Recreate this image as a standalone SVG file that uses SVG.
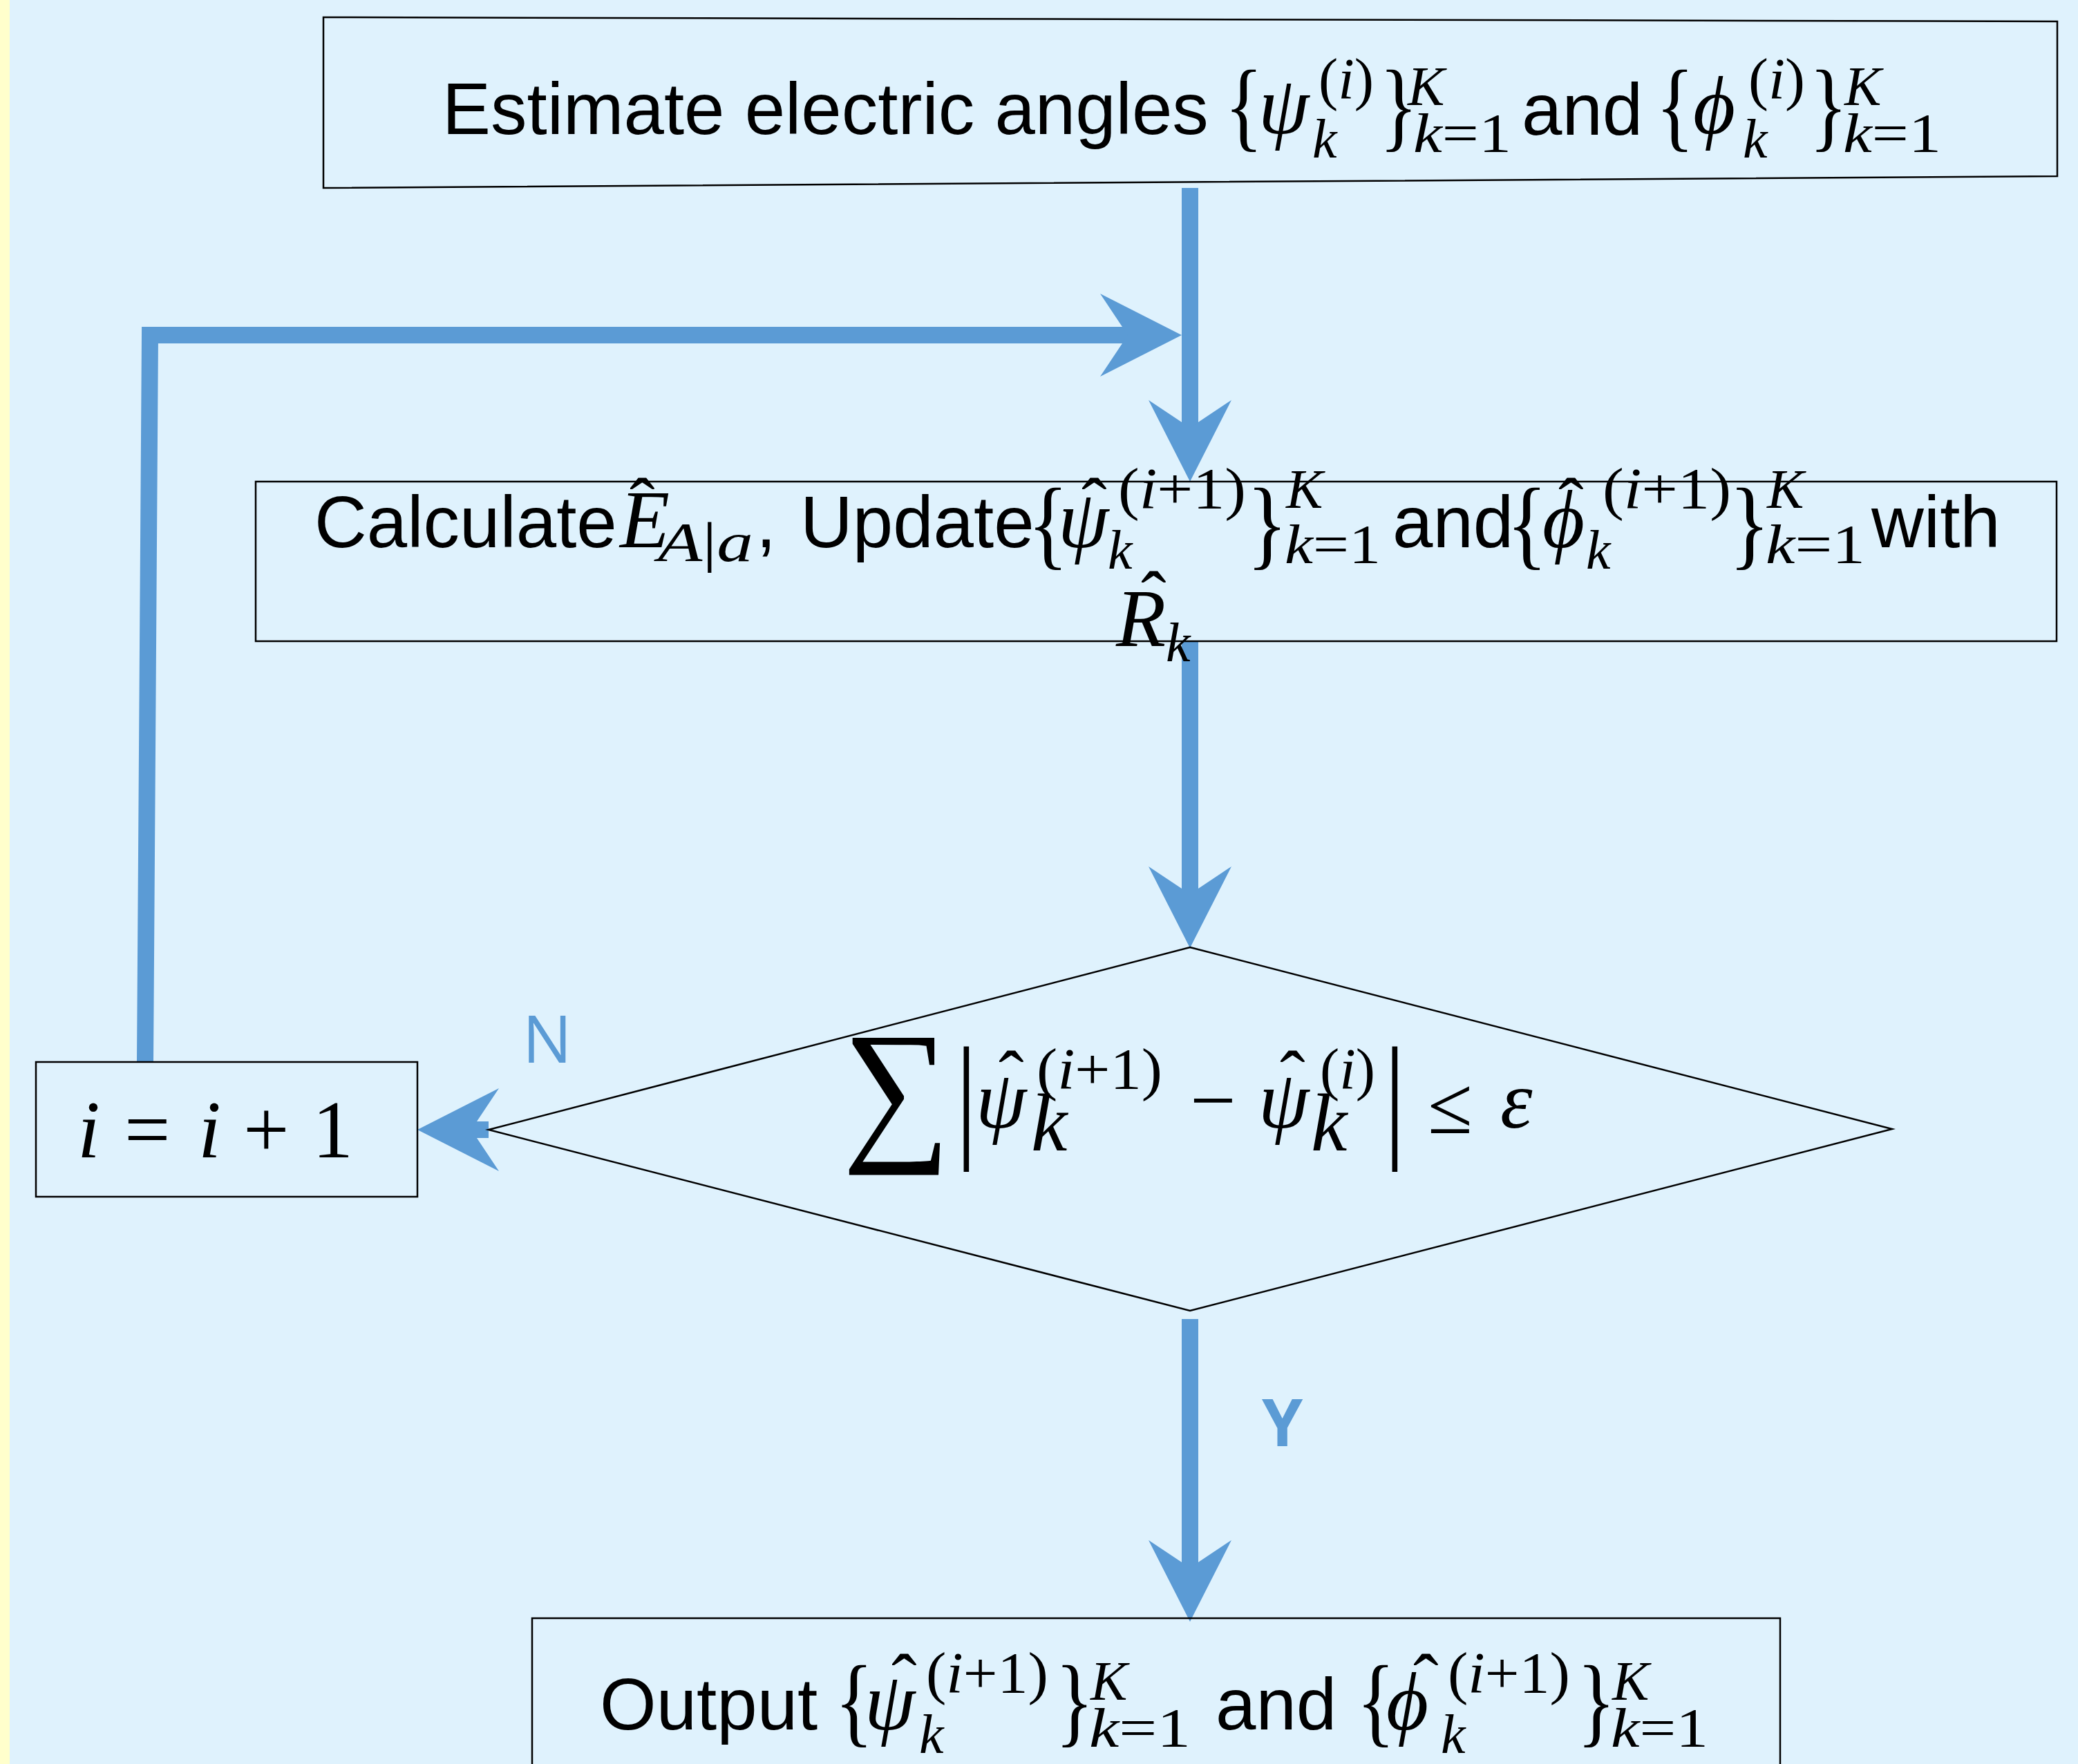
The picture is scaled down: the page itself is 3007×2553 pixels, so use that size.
<svg xmlns="http://www.w3.org/2000/svg" width="3007" height="2553" viewBox="0 0 3007 2553">
<style>
.bg{fill:#DFF2FD}
.strip{fill:#FFFFCC}
.box{fill:none;stroke:#000;stroke-width:2.5}
.conn{fill:none;stroke:#5B9BD5;stroke-width:24;stroke-linejoin:miter}
.t{font-family:"Liberation Sans",Arial,sans-serif;font-size:105px;fill:#000}
.m{font-family:"Liberation Serif","DejaVu Serif",serif;font-style:italic;font-size:118px;fill:#000}
.s{font-size:80px}
.p{font-size:85px}
.br{font-family:"Liberation Serif","DejaVu Serif",serif;font-style:normal;font-size:145px;fill:#000}
.u{font-style:normal}
.hat{font-family:"Liberation Serif","DejaVu Serif",serif;font-style:normal;font-size:110px;fill:#000}
.lbl{font-family:"Open Sans","Liberation Sans",sans-serif;font-size:95px;fill:#5B9BD5}
</style>
<defs>
<marker id="ah" markerUnits="userSpaceOnUse" viewBox="0 -60 118 120" refX="40" refY="0" markerWidth="118" markerHeight="120" orient="auto" overflow="visible">
<path d="M0,-60 L118,0 L0,60 L40,0 Z" fill="#5B9BD5"/>
</marker>
</defs>
<rect class="bg" x="0" y="0" width="3007" height="2553"/>
<rect class="strip" x="0" y="0" width="14" height="2553"/>

<g id="connectors">
<path class="conn" d="M1722,272 L1722,619" marker-end="url(#ah)"/>
<path class="conn" d="M210,1537 L217,485 L1632,485" marker-end="url(#ah)"/>
<path class="conn" d="M1722,928 L1722,1294" marker-end="url(#ah)"/>
<path class="conn" d="M707,1635 L682,1635" marker-end="url(#ah)"/>
<path class="conn" d="M1722,1909 L1722,2269" marker-end="url(#ah)"/>
<text class="lbl" x="756" y="1538">N</text>
<text class="lbl" x="1826" y="2093" font-weight="bold">Y</text>
</g>

<g id="estimate">
<polygon class="box" points="468,25 2977,31 2977,255 468,272"/>
<text class="t" x="640" y="194">Estimate electric angles</text>
<text class="br" x="0" y="0" transform="translate(1772,201) scale(0.8,1)">{</text>
<text class="m" x="1821" y="193">ψ</text>
<text class="m s" x="1899" y="228">k</text>
<text class="m p" x="1908" y="143" textLength="80" lengthAdjust="spacingAndGlyphs"><tspan class="u">(</tspan>i<tspan class="u">)</tspan></text>
<text class="br" x="0" y="0" transform="translate(1996,201) scale(0.8,1)">}</text>
<text class="m s" x="2037" y="152">K</text>
<text class="m s" x="2045" y="220" textLength="142" lengthAdjust="spacingAndGlyphs">k<tspan class="u">=1</tspan></text>
<text class="t" x="2202" y="195">and</text>
<text class="br" x="0" y="0" transform="translate(2396,201) scale(0.8,1)">{</text>
<text class="m" x="2450" y="193">ϕ</text>
<text class="m s" x="2522" y="228">k</text>
<text class="m p" x="2530" y="143" textLength="82" lengthAdjust="spacingAndGlyphs"><tspan class="u">(</tspan>i<tspan class="u">)</tspan></text>
<text class="br" x="0" y="0" transform="translate(2618,201) scale(0.8,1)">}</text>
<text class="m s" x="2669" y="152">K</text>
<text class="m s" x="2667" y="220" textLength="142" lengthAdjust="spacingAndGlyphs">k<tspan class="u">=1</tspan></text>
</g>

<g id="update">
<rect class="box" x="370" y="697" width="2606" height="231"/>
<text class="t" x="455" y="792">Calculate</text>
<text class="m" x="897" y="792">E</text>
<text class="hat" x="911" y="768">ˆ</text>
<text class="m s" x="952" y="812" textLength="138" lengthAdjust="spacingAndGlyphs">A<tspan class="u">|</tspan>a</text>
<text class="t" x="1094" y="792">,</text>
<text class="t" x="1158" y="792">Update</text>
<text class="br" x="0" y="0" font-size="130" transform="translate(1487,806) scale(0.85,1)">{</text>
<text class="m" x="1531" y="792">ψ</text>
<text class="hat" x="1565" y="768">ˆ</text>
<text class="m s" x="1603" y="823">k</text>
<text class="m p" x="1618" y="736" textLength="185" lengthAdjust="spacingAndGlyphs"><tspan class="u">(</tspan>i<tspan class="u">+1)</tspan></text>
<text class="br" x="0" y="0" font-size="130" transform="translate(1804,806) scale(0.85,1)">}</text>
<text class="m s" x="1861" y="735">K</text>
<text class="m s" x="1859" y="815" textLength="139" lengthAdjust="spacingAndGlyphs">k<tspan class="u">=1</tspan></text>
<text class="t" x="2015" y="792">and</text>
<text class="br" x="0" y="0" font-size="130" transform="translate(2180,806) scale(0.85,1)">{</text>
<text class="m" x="2232" y="792">ϕ</text>
<text class="hat" x="2255" y="768">ˆ</text>
<text class="m s" x="2295" y="823">k</text>
<text class="m p" x="2319" y="736" textLength="186" lengthAdjust="spacingAndGlyphs"><tspan class="u">(</tspan>i<tspan class="u">+1)</tspan></text>
<text class="br" x="0" y="0" font-size="130" transform="translate(2502,806) scale(0.85,1)">}</text>
<text class="m s" x="2557" y="735">K</text>
<text class="m s" x="2555" y="815" textLength="144" lengthAdjust="spacingAndGlyphs">k<tspan class="u">=1</tspan></text>
<text class="t" x="2708" y="792">with</text>
<text class="m" x="1615" y="935">R</text>
<text class="hat" x="1651" y="903">ˆ</text>
<text class="m s" x="1687" y="957">k</text>
</g>

<g id="check">
<polygon class="box" points="1722,1371 2738,1634 1722,1897 707,1635" stroke-width="2"/>
<text class="m u" x="0" y="0" font-size="230" transform="translate(1219,1652) scale(1.86,1.94)">∑</text>
<text class="m u" x="0" y="0" font-size="195" transform="translate(1383,1653) scale(1.3,1.68)">|</text>
<text class="m" x="1412" y="1632">ψ</text>
<text class="hat" x="1445" y="1597">ˆ</text>
<text class="m" x="1492" y="1665" font-size="76">k</text>
<text class="m p" x="1500" y="1576" textLength="182" lengthAdjust="spacingAndGlyphs"><tspan class="u">(</tspan>i<tspan class="u">+1)</tspan></text>
<text class="m u" x="1722" y="1632" font-size="118">−</text>
<text class="m" x="1821" y="1632">ψ</text>
<text class="hat" x="1852" y="1597">ˆ</text>
<text class="m" x="1897" y="1665" font-size="76">k</text>
<text class="m p" x="1910" y="1576" textLength="80" lengthAdjust="spacingAndGlyphs"><tspan class="u">(</tspan>i<tspan class="u">)</tspan></text>
<text class="m u" x="0" y="0" font-size="195" transform="translate(2003,1653) scale(1.3,1.68)">|</text>
<text class="m u" x="2066" y="1640" font-size="125">≤</text>
<text class="m" x="2171" y="1632">ε</text>
</g>

<g id="increment">
<rect class="box" x="52" y="1537" width="552" height="195" stroke-width="2"/>
<text class="m" x="112" y="1675" font-size="112">i</text>
<text class="m u" x="180" y="1675" font-size="120">=</text>
<text class="m" x="287" y="1675" font-size="112">i</text>
<text class="m u" x="352" y="1675" font-size="120">+</text>
<text class="m u" x="452" y="1675" font-size="112">1</text>
</g>

<g id="output">
<rect class="box" x="770" y="2342" width="1806" height="230"/>
<text class="t" x="868" y="2503">Output</text>
<text class="br" x="0" y="0" transform="translate(1208,2510) scale(0.8,1)">{</text>
<text class="m" x="1251" y="2503">ψ</text>
<text class="hat" x="1290" y="2470">ˆ</text>
<text class="m s" x="1330" y="2537">k</text>
<text class="m p" x="1340" y="2450" textLength="177" lengthAdjust="spacingAndGlyphs"><tspan class="u">(</tspan>i<tspan class="u">+1)</tspan></text>
<text class="br" x="0" y="0" transform="translate(1527,2510) scale(0.8,1)">}</text>
<text class="m s" x="1578" y="2460">K</text>
<text class="m s" x="1576" y="2528" textLength="147" lengthAdjust="spacingAndGlyphs">k<tspan class="u">=1</tspan></text>
<text class="t" x="1759" y="2503">and</text>
<text class="br" x="0" y="0" transform="translate(1963,2510) scale(0.8,1)">{</text>
<text class="m" x="2006" y="2503">ϕ</text>
<text class="hat" x="2045" y="2470">ˆ</text>
<text class="m s" x="2085" y="2537">k</text>
<text class="m p" x="2095" y="2450" textLength="177" lengthAdjust="spacingAndGlyphs"><tspan class="u">(</tspan>i<tspan class="u">+1)</tspan></text>
<text class="br" x="0" y="0" transform="translate(2282,2510) scale(0.8,1)">}</text>
<text class="m s" x="2333" y="2460">K</text>
<text class="m s" x="2331" y="2528" textLength="141" lengthAdjust="spacingAndGlyphs">k<tspan class="u">=1</tspan></text>
</g>
</svg>
